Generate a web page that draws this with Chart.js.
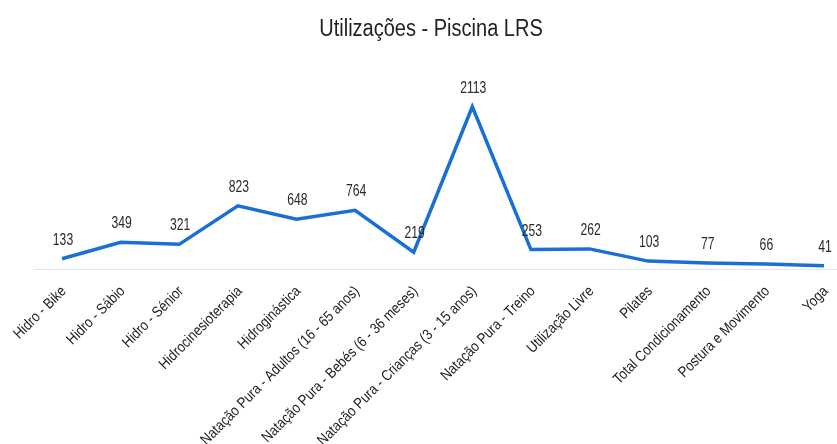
<!DOCTYPE html>
<html>
<head>
<meta charset="utf-8">
<script src="https://cdn.jsdelivr.net/npm/chart.js@4.4.1/dist/chart.umd.min.js"></script>
<style>
  html, body { margin: 0; padding: 0; background: #fff; }
  #wrap { width: 837px; height: 444px; position: relative; }
</style>
</head>
<body>
<div id="wrap"><canvas id="usageChart"></canvas></div>
<script>
var categories = [
    'Hidro - Bike',
    'Hidro - Sábio',
    'Hidro - Sénior',
    'Hidrocinesioterapia',
    'Hidroginástica',
    'Natação Pura - Adultos (16 - 65 anos)',
    'Natação Pura - Bebés (6 - 36 meses)',
    'Natação Pura - Crianças (3 - 15 anos)',
    'Natação Pura - Treino',
    'Utilização Livre',
    'Pilates',
    'Total Condicionamento',
    'Postura e Movimento',
    'Yoga'
];
var utilizacoes = [133, 349, 321, 823, 648, 764, 219, 2113, 253, 262, 103, 77, 66, 41];
var chartTitle = 'Utilizações - Piscina LRS';

var sans = '"Liberation Sans", Arial, sans-serif';

// texto "estreito": não há Arial Narrow, então comprime na horizontal
function narrowText(ctx, text, x, y, squeeze) {
    ctx.save();
    ctx.translate(x, y);
    ctx.scale(squeeze, 1);
    ctx.fillText(text, 0, 0);
    ctx.restore();
}

var decorations = {
    id: 'decorations',
    beforeDatasetsDraw: function (chart) {
        var ctx = chart.ctx;
        var area = chart.chartArea;
        // linha de base clara
        ctx.save();
        ctx.strokeStyle = '#dfe6f0';
        ctx.lineWidth = 1.2;
        ctx.beginPath();
        ctx.moveTo(area.left - 28, area.bottom + 0.5);
        ctx.lineTo(chart.width, area.bottom + 0.5);
        ctx.stroke();
        ctx.restore();
    },
    afterDatasetsDraw: function (chart) {
        var ctx = chart.ctx;
        var meta = chart.getDatasetMeta(0);
        var xScale = chart.scales.x;
        var area = chart.chartArea;

        // título
        ctx.save();
        ctx.fillStyle = '#222';
        ctx.font = '23px ' + sans;
        ctx.textAlign = 'center';
        ctx.textBaseline = 'alphabetic';
        narrowText(ctx, chartTitle, 431, 36, 0.87);
        ctx.restore();

        // valores por cima dos pontos
        ctx.save();
        ctx.font = '16px ' + sans;
        ctx.fillStyle = '#2a2a2a';
        ctx.textAlign = 'center';
        ctx.textBaseline = 'alphabetic';
        meta.data.forEach(function (pt, i) {
            narrowText(ctx, String(chart.data.datasets[0].data[i]), pt.x + 1, pt.y - 14, 0.76);
        });
        ctx.restore();

        // rótulos das categorias, rodados a 45 graus
        ctx.save();
        ctx.font = '15px ' + sans;
        ctx.fillStyle = '#222';
        ctx.textAlign = 'right';
        ctx.textBaseline = 'middle';
        chart.data.labels.forEach(function (lbl, i) {
            var x = xScale.getPixelForValue(i);
            ctx.save();
            ctx.translate(x + 2, area.bottom + 20);
            ctx.rotate(-Math.PI / 4);
            ctx.scale(0.86, 1);
            ctx.fillText(lbl, 0, 0);
            ctx.restore();
        });
        ctx.restore();
    }
};

var ctx = document.getElementById('usageChart').getContext('2d');
var usageChart = new Chart(ctx, {
    type: 'line',
    data: {
        labels: categories,
        datasets: [{
            label: 'Utilizações',
            data: utilizacoes,
            borderColor: '#1a6fd4',
            borderWidth: 3.5,
            pointRadius: 0,
            tension: 0,
            fill: false
        }]
    },
    options: {
        responsive: true,
        maintainAspectRatio: false,
        animation: false,
        layout: { padding: { left: 62, right: 13, top: 77, bottom: 175 } },
        plugins: {
            legend: { display: false },
            tooltip: { enabled: false },
            title: { display: false }
        },
        scales: {
            x: {
                display: false,
                offset: false
            },
            y: {
                display: false,
                min: 0,
                max: 2500
            }
        }
    },
    plugins: [decorations]
});
</script>
</body>
</html>
